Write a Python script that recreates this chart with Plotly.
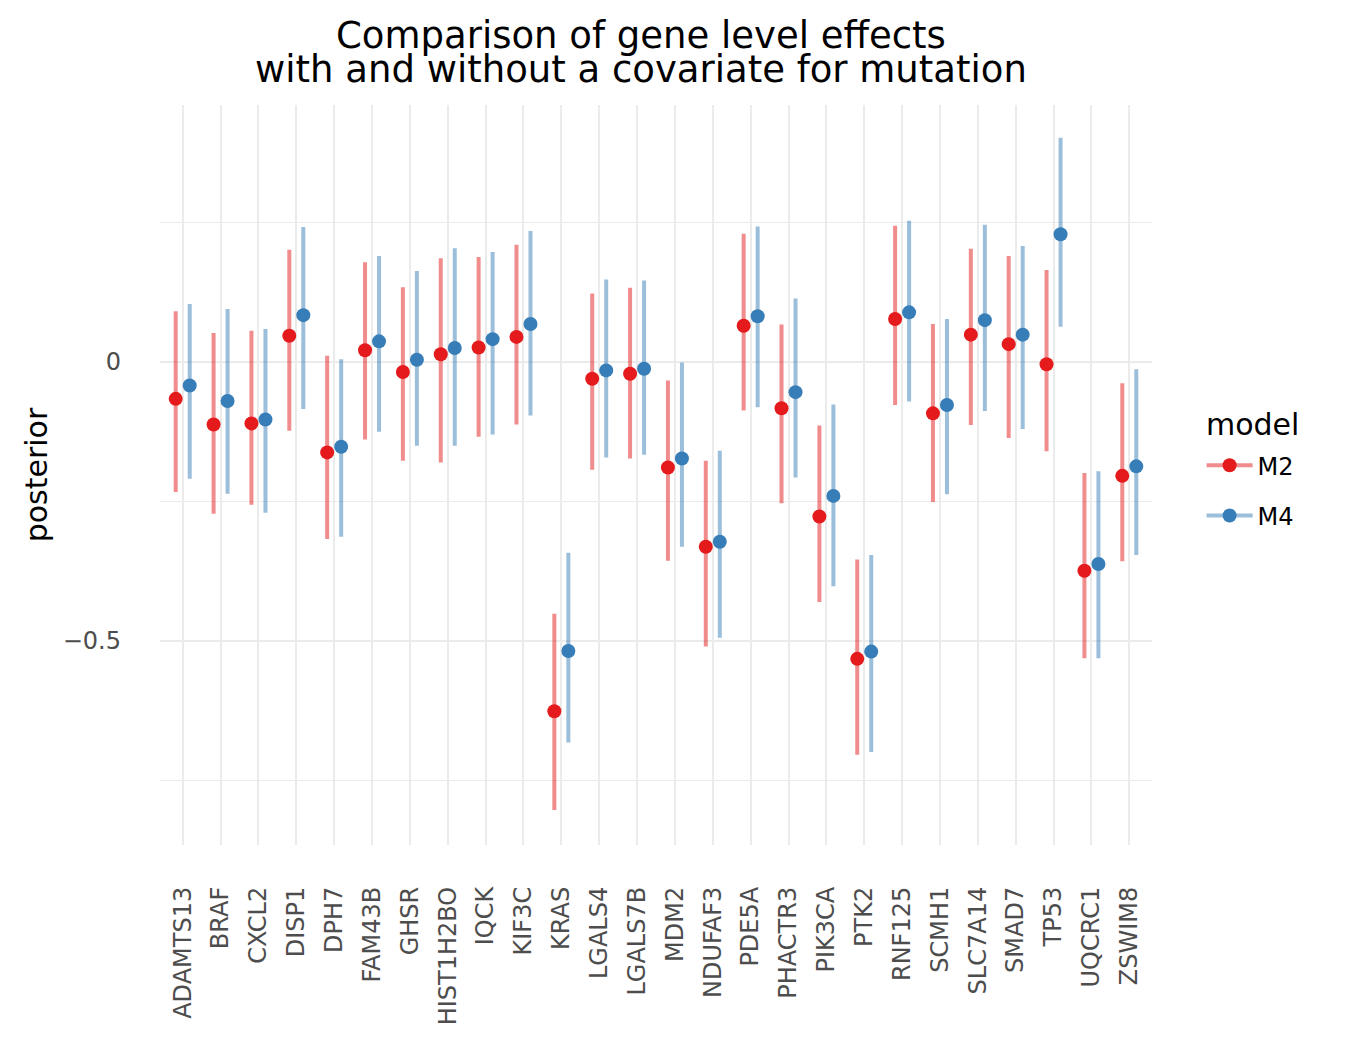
import plotly.graph_objects as go

genes = ["ADAMTS13", "BRAF", "CXCL2", "DISP1", "DPH7", "FAM43B", "GHSR", "HIST1H2BO",
         "IQCK", "KIF3C", "KRAS", "LGALS4", "LGALS7B", "MDM2", "NDUFAF3", "PDE5A",
         "PHACTR3", "PIK3CA", "PTK2", "RNF125", "SCMH1", "SLC7A14", "SMAD7", "TP53",
         "UQCRC1", "ZSWIM8"]

m2_mean = [-0.066, -0.112, -0.110, 0.047, -0.162, 0.021, -0.018, 0.014, 0.026, 0.045,
           -0.626, -0.030, -0.021, -0.189, -0.331, 0.065, -0.083, -0.277, -0.532, 0.077,
           -0.092, 0.049, 0.032, -0.004, -0.374, -0.204]
m2_low = [-0.233, -0.272, -0.256, -0.123, -0.317, -0.139, -0.177, -0.180, -0.134, -0.112,
          -0.803, -0.193, -0.173, -0.356, -0.510, -0.087, -0.253, -0.430, -0.704, -0.077,
          -0.251, -0.113, -0.136, -0.160, -0.531, -0.357]
m2_high = [0.091, 0.052, 0.056, 0.201, 0.011, 0.179, 0.134, 0.186, 0.188, 0.210,
           -0.451, 0.123, 0.133, -0.033, -0.177, 0.230, 0.067, -0.114, -0.354, 0.244,
           0.068, 0.203, 0.190, 0.165, -0.199, -0.038]

m4_mean = [-0.042, -0.070, -0.103, 0.084, -0.152, 0.037, 0.004, 0.025, 0.041, 0.068,
           -0.518, -0.015, -0.012, -0.173, -0.322, 0.082, -0.054, -0.240, -0.519, 0.089,
           -0.077, 0.075, 0.049, 0.229, -0.362, -0.187]
m4_low = [-0.209, -0.236, -0.270, -0.084, -0.313, -0.125, -0.150, -0.150, -0.130, -0.096,
          -0.682, -0.171, -0.166, -0.331, -0.494, -0.081, -0.207, -0.402, -0.699, -0.071,
          -0.237, -0.088, -0.120, 0.063, -0.531, -0.346]
m4_high = [0.104, 0.095, 0.059, 0.242, 0.005, 0.190, 0.163, 0.204, 0.197, 0.235,
           -0.342, 0.148, 0.146, -0.001, -0.159, 0.243, 0.114, -0.076, -0.346, 0.253,
           0.077, 0.246, 0.208, 0.402, -0.196, -0.013]

models = ["M2", "M4"]
y_tickvals = [-0.5, 0]
y_ticktext = ["\u22120.5", "0"]

FONT = "DejaVu Sans"
dodge = 0.185
idx = list(range(len(genes)))

series = [
    ("M2", m2_mean, m2_low, m2_high, "#E41A1C", "rgba(228,26,28,0.5)", -dodge),
    ("M4", m4_mean, m4_low, m4_high, "#377EB8", "rgba(55,126,184,0.5)", dodge),
]

fig = go.Figure()
for name, mean, low, high, col, light, off in series:
    fig.add_trace(go.Scatter(
        x=[i + off for i in idx], y=mean, mode="markers",
        marker=dict(color=col, size=14, line=dict(width=0)),
        error_y=dict(type="data", symmetric=False,
                     array=[h - m for h, m in zip(high, mean)],
                     arrayminus=[m - l for m, l in zip(mean, low)],
                     color=light, thickness=4, width=0),
        showlegend=False, name=name, hoverinfo="skip"))

for name, mean, low, high, col, light, off in series:
    fig.add_trace(go.Scatter(
        x=[None], y=[None], mode="lines+markers", name=name,
        legendgroup=name,
        line=dict(color=light, width=4),
        marker=dict(color=col, size=14, line=dict(width=0))))

fig.add_annotation(text="Comparison of gene level effects", xref="paper", yref="paper",
                   x=0.4844, y=1.0945, showarrow=False, xanchor="center", yanchor="middle",
                   font=dict(family=FONT, size=37, color="black"))
fig.add_annotation(text="with and without a covariate for mutation", xref="paper", yref="paper",
                   x=0.4844, y=1.0473, showarrow=False, xanchor="center", yanchor="middle",
                   font=dict(family=FONT, size=37, color="black"))
fig.add_annotation(text="model", xref="paper", yref="paper",
                   x=1.1017, y=0.5676, showarrow=False, xanchor="center", yanchor="middle",
                   font=dict(family=FONT, size=30, color="black"))

fig.update_layout(
    width=1354, height=1045,
    margin=dict(l=152, r=210, t=97, b=208),
    paper_bgcolor="white", plot_bgcolor="white",
    font=dict(family=FONT, color="#4D4D4D"),
    legend=dict(
        font=dict(family=FONT, size=24, color="black"),
        x=1.050, y=0.543, xanchor="left", yanchor="top",
        traceorder="grouped", tracegroupgap=16, itemwidth=46,
        bgcolor="rgba(0,0,0,0)",
    ),
    xaxis=dict(
        range=[-0.6, len(genes) - 0.4],
        tickmode="array", tickvals=idx, ticktext=genes,
        tickangle=-90, tickfont=dict(family=FONT, size=24, color="#4D4D4D"),
        showgrid=True, gridcolor="#EBEBEB", gridwidth=1.9,
        zeroline=False, showline=False, ticks="",
        ticklabelstandoff=36,
    ),
    yaxis=dict(
        range=[-0.8656, 0.4606],
        tickmode="array", tickvals=y_tickvals, ticktext=y_ticktext,
        tickfont=dict(family=FONT, size=24, color="#4D4D4D"),
        showgrid=True, gridcolor="#EBEBEB", gridwidth=1.9,
        minor=dict(tickmode="array", tickvals=[-0.75, -0.25, 0.25],
                   showgrid=True, gridcolor="#EBEBEB", gridwidth=1, ticks=""),
        zeroline=False, showline=False, ticks="",
        ticklabelstandoff=38,
        title=dict(text="posterior", font=dict(family=FONT, size=30, color="black"),
                   standoff=6),
    ),
)

fig.write_html("out.html")
